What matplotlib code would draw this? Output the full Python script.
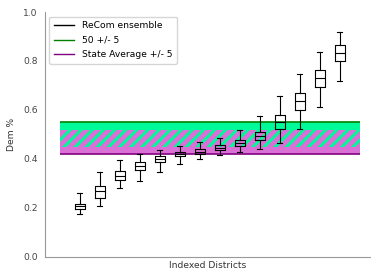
import matplotlib
matplotlib.use("Agg")
import matplotlib.pyplot as plt
from matplotlib.lines import Line2D

# boxplot stats per indexed district
whislo = [0.176, 0.208, 0.282, 0.309, 0.345, 0.380, 0.400, 0.416, 0.427, 0.439, 0.466, 0.523, 0.613, 0.717]
q1     = [0.195, 0.240, 0.313, 0.353, 0.387, 0.412, 0.420, 0.435, 0.451, 0.476, 0.521, 0.600, 0.695, 0.799]
med    = [0.206, 0.267, 0.331, 0.372, 0.400, 0.421, 0.429, 0.445, 0.463, 0.494, 0.549, 0.636, 0.730, 0.831]
q3     = [0.215, 0.290, 0.351, 0.388, 0.411, 0.427, 0.439, 0.455, 0.477, 0.511, 0.579, 0.670, 0.762, 0.864]
whishi = [0.262, 0.345, 0.395, 0.418, 0.436, 0.451, 0.469, 0.485, 0.518, 0.576, 0.657, 0.747, 0.835, 0.917]

fifty = [0.45, 0.55]
state_avg = [0.42, 0.52]
yticks = [0.0, 0.2, 0.4, 0.6, 0.8, 1.0]

plt.rcParams['hatch.linewidth'] = 2.2
fs = 6.6
fig = plt.figure(figsize=(3.71, 2.74), dpi=100)
ax = fig.add_axes([0.121, 0.063, 0.879, 0.893])

stats = []
for i in range(len(med)):
    stats.append({'whislo': whislo[i], 'q1': q1[i], 'med': med[i], 'q3': q3[i],
                  'whishi': whishi[i], 'fliers': []})

n = len(med)
# bands
ax.fill_between([0, n + 1], fifty[0], fifty[1], color='mediumspringgreen', lw=0, zorder=1)
ax.fill_between([0, n + 1], state_avg[0], state_avg[1], color='orchid', lw=0, zorder=1)
lo, hi = max(fifty[0], state_avg[0]), min(fifty[1], state_avg[1])
ax.fill_between([0, n + 1], lo, hi, facecolor='none', edgecolor='mediumspringgreen',
                hatch='///', lw=0, zorder=2)
ax.hlines(fifty[1], 0, n + 1, color='green', lw=1.2, zorder=3)
ax.hlines(state_avg[0], 0, n + 1, color='purple', lw=1.2, zorder=3)

lw = 0.8
ax.bxp(stats, positions=range(1, n + 1), widths=0.5, showfliers=False,
       boxprops=dict(color='black', lw=lw), medianprops=dict(color='black', lw=lw),
       whiskerprops=dict(color='black', lw=lw), capprops=dict(color='black', lw=lw),
       manage_ticks=False, zorder=4)

ax.set_xlim(-0.75, 15.55)
ax.set_ylim(0, 1)
ax.set_xticks([])
ax.set_yticks(yticks)
ax.set_yticklabels([f"{t:.1f}" for t in yticks])
ax.tick_params(axis='y', length=0, labelsize=fs, labelcolor='#444444', pad=5)
for s in ['top', 'right']:
    ax.spines[s].set_visible(False)
for s in ['left', 'bottom']:
    ax.spines[s].set_color('#999999')
    ax.spines[s].set_linewidth(0.8)
ax.set_xlabel("Indexed Districts", fontsize=fs, color='#333333', labelpad=3)
ax.set_ylabel("Dem %", fontsize=fs, color='#333333', labelpad=5)

handles = [Line2D([], [], color='black', lw=1),
           Line2D([], [], color='green', lw=1),
           Line2D([], [], color='purple', lw=1)]
ax.legend(handles, ["ReCom ensemble", "50 +/- 5", "State Average +/- 5"],
          loc='upper left', fontsize=fs, frameon=True, handlelength=2.2,
          borderpad=0.5, labelspacing=0.6)

fig.savefig("out.png", dpi=100)
